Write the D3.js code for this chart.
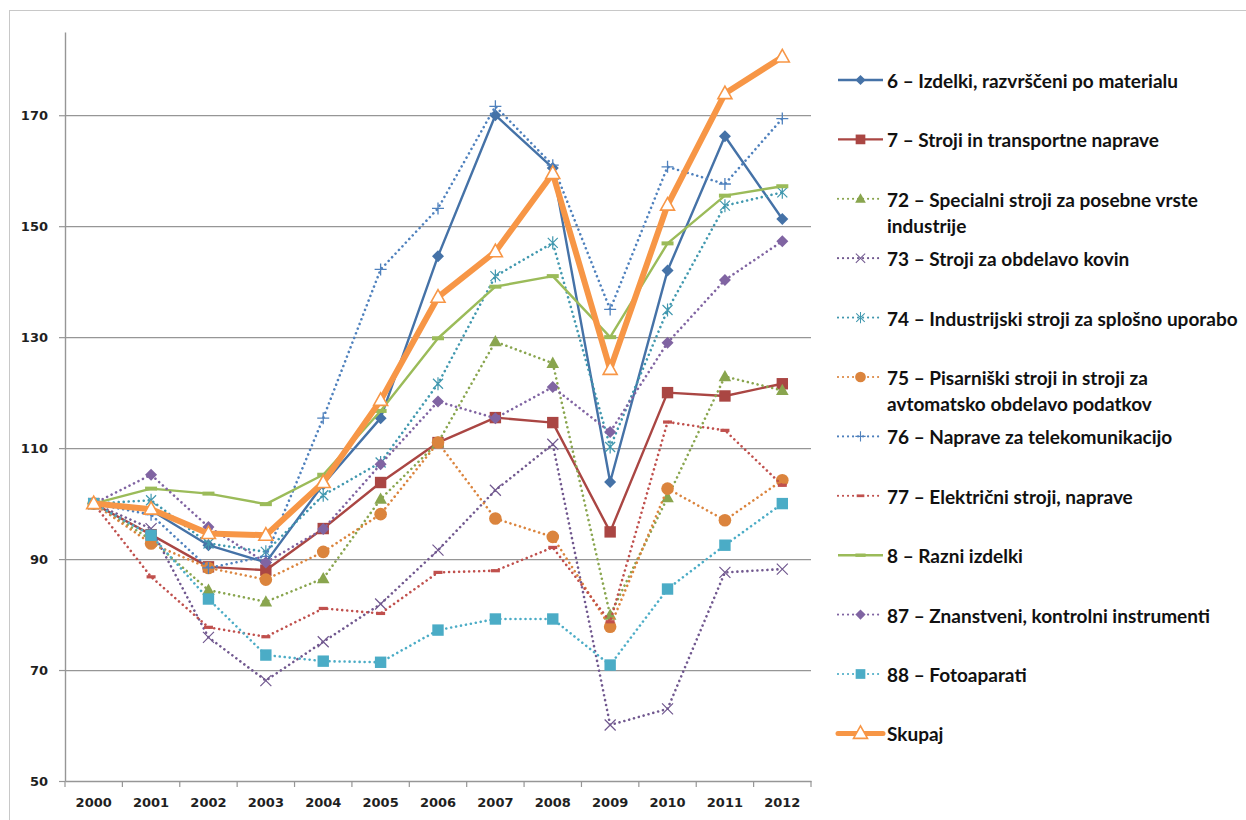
<!DOCTYPE html>
<html>
<head>
<meta charset="utf-8">
<script src="https://cdn.jsdelivr.net/npm/d3@7"></script>
<style>
  html, body { margin: 0; padding: 0; background: #fff; }
  svg { display: block; }
</style>
</head>
<body>
<svg id="chart" width="1246" height="820"></svg>
<script>
// ---------------- DATA ----------------
const years = ["2000","2001","2002","2003","2004","2005","2006","2007","2008","2009","2010","2011","2012"];
const yTicks = [50, 70, 90, 110, 130, 150, 170];

const s6    = [100, 98.8, 92.5, 89.4, 103.5, 115.4, 144.6, 170.0, 160.5, 103.9, 142.0, 166.2, 151.3];
const s7    = [100, 94.4, 88.6, 88.0, 95.5, 103.8, 111.0, 115.5, 114.6, 94.9, 120.0, 119.4, 121.6];
const s72   = [100, 93.5, 84.4, 82.3, 86.5, 100.8, 111.0, 129.2, 125.3, 79.9, 101.1, 122.9, 120.4];
const s73   = [100, 95.5, 75.9, 68.1, 75.1, 81.9, 91.6, 102.4, 110.7, 60.1, 63.0, 87.6, 88.2];
const s74   = [100, 100.6, 92.8, 91.3, 101.5, 107.4, 121.6, 141.0, 147.0, 110.2, 134.9, 153.7, 156.1];
const s75   = [100, 92.8, 88.4, 86.3, 91.3, 98.1, 111.0, 97.3, 94.0, 77.8, 102.7, 97.0, 104.2];
const s76   = [100, 98.0, 88.4, 90.5, 115.4, 142.2, 153.2, 171.6, 161.0, 135.0, 160.7, 157.6, 169.4];
const s77   = [100, 86.8, 77.7, 76.0, 81.1, 80.2, 87.6, 87.9, 92.1, 78.7, 114.7, 113.2, 103.3];
const s8    = [100, 102.7, 101.8, 99.9, 105.2, 116.7, 129.8, 139.1, 141.0, 130.0, 146.9, 155.5, 157.2];
const s87   = [100, 105.2, 95.8, 89.4, 95.4, 107.1, 118.4, 115.4, 121.0, 112.9, 129.0, 140.3, 147.3];
const s88   = [100, 94.3, 82.8, 72.7, 71.6, 71.4, 77.2, 79.2, 79.2, 70.9, 84.6, 92.5, 100.0];
const sAll  = [100, 99.0, 94.6, 94.3, 103.8, 118.6, 137.2, 145.4, 159.5, 124.2, 153.8, 173.9, 180.5];

const seriesNames = [
  "6 – Izdelki, razvrščeni po materialu",
  "7 – Stroji in transportne naprave",
  "72 – Specialni stroji za posebne vrste|industrije",
  "73 – Stroji za obdelavo kovin",
  "74 – Industrijski stroji za splošno uporabo",
  "75 – Pisarniški stroji in stroji za|avtomatsko obdelavo podatkov",
  "76 – Naprave za telekomunikacijo",
  "77 – Električni stroji, naprave",
  "8 – Razni izdelki",
  "87 – Znanstveni, kontrolni instrumenti",
  "88 – Fotoaparati",
  "Skupaj"
];
const seriesValues = [s6, s7, s72, s73, s74, s75, s76, s77, s8, s87, s88, sAll];
const seriesColors = ["#4572a7","#aa4643","#89a54e","#71588f","#4198af","#db843d",
                      "#4f81bd","#c0504d","#9bbb59","#8064a2","#4bacc6","#f79646"];
const seriesDotted = [false,false,true,true,true,true,true,true,false,true,true,false];
const seriesMarker = ["diamond","square","triangle","x","star","circle","plus","dash","dashwide","diamond","square","otri"];

// ---------------- LAYOUT ----------------
const svg = d3.select("#chart");
const plot = { left: 65, right: 811, top: 32, bottom: 781 };

// outer frame
svg.append("rect")
  .attr("x", 9.5).attr("y", 10.5)
  .attr("width", 1300).attr("height", 900)
  .attr("fill", "none").attr("stroke", "#c8c8c8").attr("stroke-width", 1);

const x = d3.scaleBand().domain(years).range([plot.left, plot.right]);
const cx = d => x(d) + x.bandwidth() / 2;
const y = d3.scaleLinear().domain([50, 185]).range([plot.bottom, plot.top]);

// gridlines
const grid = svg.append("g")
  .attr("transform", `translate(${plot.left},0)`)
  .call(d3.axisLeft(y).tickValues(yTicks.filter(v => v > 50)).tickSize(-(plot.right - plot.left)).tickFormat(""));
grid.select(".domain").remove();
grid.selectAll(".tick line").attr("stroke", "#969696").attr("stroke-width", 1.3);

// y axis
const yAxis = svg.append("g")
  .attr("transform", `translate(${plot.left},0)`)
  .call(d3.axisLeft(y).tickValues(yTicks).tickSize(6).tickPadding(11).tickSizeOuter(0));
yAxis.select(".domain").attr("stroke", "#969696").attr("stroke-width", 1.4);
yAxis.selectAll(".tick line").attr("stroke", "#969696").attr("stroke-width", 1.2);
yAxis.selectAll(".tick text")
  .attr("font-family", "DejaVu Sans, Verdana, sans-serif")
  .attr("font-weight", "bold").attr("font-size", 13).attr("fill", "#1f1f1f");

// x axis
const xAxis = svg.append("g")
  .attr("transform", `translate(0,${plot.bottom})`)
  .call(d3.axisBottom(x).tickSize(0).tickPadding(17).tickSizeOuter(0));
xAxis.select(".domain").attr("stroke", "#969696").attr("stroke-width", 1.4);
xAxis.selectAll(".tick text")
  .attr("font-family", "DejaVu Sans, Verdana, sans-serif")
  .attr("font-weight", "bold").attr("font-size", 13).attr("fill", "#1f1f1f");
// tick marks at band boundaries
const boundaries = years.map(d => x(d)).concat([x(years[years.length - 1]) + x.bandwidth()]);
xAxis.selectAll("line.bnd").data(boundaries).enter().append("line")
  .attr("class", "bnd")
  .attr("x1", d => d).attr("x2", d => d)
  .attr("y1", 0).attr("y2", 6)
  .attr("stroke", "#969696").attr("stroke-width", 1.2);

// ---------------- MARKERS ----------------
function drawMarker(g, type, color) {
  switch (type) {
    case "diamond":
      g.append("path").attr("d", "M0,-6L6,0L0,6L-6,0Z").attr("fill", color); break;
    case "square":
      g.append("rect").attr("x", -5.7).attr("y", -5.7).attr("width", 11.4).attr("height", 11.4).attr("fill", color); break;
    case "triangle":
      g.append("path").attr("d", "M0,-6.6L6.3,4.7L-6.3,4.7Z").attr("fill", color); break;
    case "circle":
      g.append("circle").attr("r", 6.3).attr("fill", color); break;
    case "x":
      g.append("path").attr("d", "M-5.5,-5.5L5.5,5.5M-5.5,5.5L5.5,-5.5").attr("stroke", color).attr("stroke-width", 1.2).attr("fill", "none"); break;
    case "plus":
      g.append("path").attr("d", "M-6,0L6,0M0,-6L0,6").attr("stroke", color).attr("stroke-width", 1.3).attr("fill", "none"); break;
    case "star":
      g.append("path").attr("d", "M-5,-5L5,5M-5,5L5,-5M0,-6.5L0,6.5").attr("stroke", color).attr("stroke-width", 1.2).attr("fill", "none"); break;
    case "dash":
      g.append("rect").attr("x", -4.5).attr("y", -1.6).attr("width", 9).attr("height", 3.2).attr("fill", color); break;
    case "dashwide":
      g.append("rect").attr("x", -6).attr("y", -2).attr("width", 12).attr("height", 4).attr("fill", color); break;
    case "otri":
      g.append("path").attr("d", "M0,-7.5L7,5L-7,5Z").attr("fill", "#fff").attr("stroke", color).attr("stroke-width", 1.6).attr("stroke-linejoin", "miter"); break;
  }
}

function styleLine(sel, i) {
  const isTotal = i === seriesValues.length - 1;
  sel.attr("fill", "none")
    .attr("stroke", seriesColors[i])
    .attr("stroke-width", isTotal ? 6 : (seriesDotted[i] ? 2.6 : 2.4))
    .attr("stroke-linejoin", "round");
  if (seriesDotted[i]) {
    sel.attr("stroke-dasharray", "0.01 5").attr("stroke-linecap", "round");
  } else {
    sel.attr("stroke-linecap", isTotal ? "round" : "butt");
  }
}

// ---------------- SERIES ----------------
const line = d3.line().x((d, j) => cx(years[j])).y(d => y(d));
seriesValues.forEach((vals, i) => {
  const g = svg.append("g").attr("class", "series");
  g.append("path").datum(vals).attr("d", line).call(styleLine, i);
  vals.forEach((v, j) => {
    const mg = g.append("g").attr("transform", `translate(${cx(years[j])},${y(v)})`);
    drawMarker(mg, seriesMarker[i], seriesColors[i]);
  });
});

// ---------------- LEGEND ----------------
const legend = svg.append("g").attr("class", "legend");
const legX1 = 838, legX2 = 883, legText = 887;
const legY0 = 80, legStep = 59.4, legLine = 26;
const legFont = "'Liberation Sans Narrow', Lato, sans-serif";

// fit font size so the first label matches the reference width (~296px)
const probe = svg.append("text").attr("font-family", legFont).attr("font-weight", "bold")
  .attr("font-size", 16).text(seriesNames[0]);
const w16 = probe.node().getComputedTextLength();
probe.remove();
const legFs = Math.max(13, Math.min(19, 16 * 296 / w16));

seriesNames.forEach((name, i) => {
  const cy = legY0 + i * legStep;
  const g = legend.append("g");
  const ln = g.append("line").attr("x1", legX1).attr("x2", legX2).attr("y1", cy).attr("y2", cy);
  styleLine(ln, i);
  if (i === seriesValues.length - 1) ln.attr("stroke-width", 5).attr("stroke-linecap", "round");
  if (seriesDotted[i]) ln.attr("stroke-width", 2.2).attr("stroke-dasharray", "0.01 5");
  const mg = g.append("g").attr("transform", `translate(${(legX1 + legX2) / 2},${cy})`);
  const mt = seriesMarker[i];
  drawMarker(mg, mt, seriesColors[i]);
  if (mt !== "otri") mg.attr("transform", `translate(${(legX1 + legX2) / 2},${cy}) scale(0.85)`);
  const parts = name.split("|");
  const t = g.append("text")
    .attr("font-family", legFont).attr("font-weight", "bold")
    .attr("font-size", legFs).attr("fill", "#111")
    .attr("dominant-baseline", "central");
  parts.forEach((p, k) => {
    t.append("tspan").attr("x", legText).attr("y", cy + k * legLine).text(p);
  });
});
</script>
</body>
</html>
